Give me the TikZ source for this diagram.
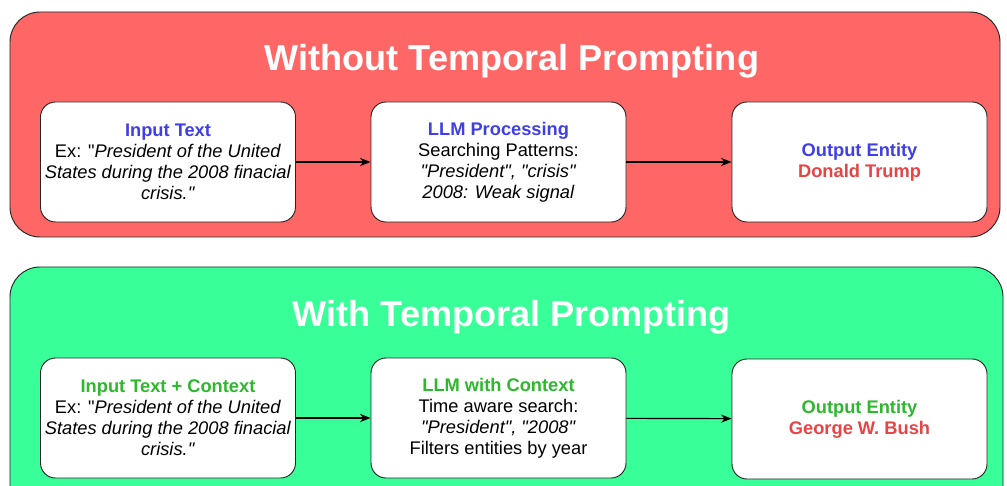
\documentclass[tikz,border=0pt]{standalone}
\usepackage{fontspec}
\setmainfont{Liberation Sans}[Ligatures=TeXOff]
\usetikzlibrary{arrows.meta}
\definecolor{redbg}{HTML}{FF6666}
\definecolor{greenbg}{HTML}{38FF98}
\definecolor{bluetxt}{HTML}{3F3FE6}
\definecolor{greentxt}{HTML}{2DB82D}
\definecolor{redtxt}{HTML}{E84444}
\begin{document}
\begin{tikzpicture}[x=0.03cm,y=-0.03cm,
  panel/.style={draw=black!85,line width=0.8pt,rounded corners=30*0.03cm},
  card/.style={draw=black!85,line width=0.8pt,fill=white,rounded corners=0.45cm,
    minimum width=255*0.03cm,minimum height=120*0.03cm,align=center,inner sep=0pt,
    font=\fontsize{15.6}{18}\selectfont},
  ttl/.style={text=white,font=\bfseries\fontsize{30.8}{34}\selectfont},
  conn/.style={-{Stealth[length=9pt,width=7pt]},line width=1pt,black}]
\useasboundingbox (0,0) rectangle (1007,486);
\clip (0,0) rectangle (1007,486);
\fill[white] (0,0) rectangle (1007,486);
% top panel
\draw[panel,fill=redbg] (10,12) rectangle (1000,237);
\node[ttl] (t1) at (512,61) {Without Temporal Prompting};
\node[card] (a1) at (168,162) {\textcolor{bluetxt}{\bfseries Input Text}\\Ex: "\textit{President of the United}\\\textit{States during the 2008 finacial}\\\textit{crisis."}};
\node[card] (b1) at (498.5,162) {\textcolor{bluetxt}{\bfseries LLM Processing}\\Searching Patterns:\\\textit{"President", "crisis"}\\\textit{2008: Weak signal}};
\node[card] (c1) at (859.5,162) {\textcolor{bluetxt}{\bfseries Output Entity}\\\textcolor{redtxt}{\bfseries Donald Trump}};
\draw[conn] (a1) -- (b1);
\draw[conn] (b1) -- (c1);
% bottom panel
\draw[panel,fill=greenbg] (10,267) rectangle (1003,520);
\node[ttl] (t2) at (512,317) {With Temporal Prompting};
\node[card] (a2) at (168,418) {\textcolor{greentxt}{\bfseries Input Text + Context}\\Ex: "\textit{President of the United}\\\textit{States during the 2008 finacial}\\\textit{crisis."}};
\node[card] (b2) at (498.5,418) {\textcolor{greentxt}{\bfseries LLM with Context}\\Time aware search:\\\textit{"President", "2008"}\\Filters entities by year};
\node[card] (c2) at (859.5,419) {\textcolor{greentxt}{\bfseries Output Entity}\\\textcolor{redtxt}{\bfseries George W. Bush}};
\draw[conn] (a2) -- (b2);
\draw[conn] (b2) -- (c2);
\end{tikzpicture}
\end{document}
